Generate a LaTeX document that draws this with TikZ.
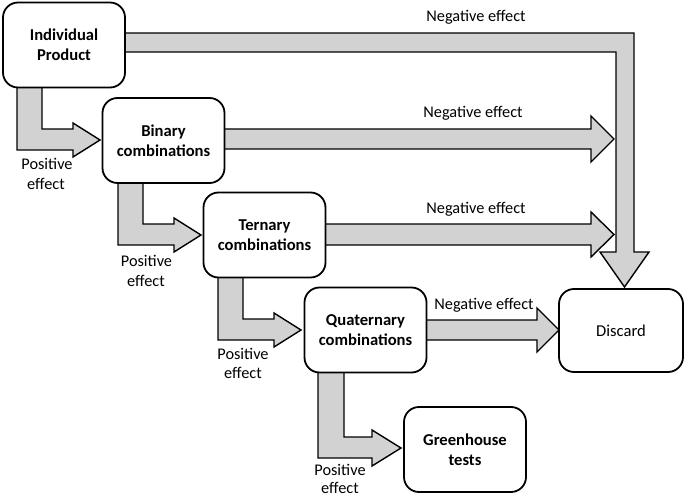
\documentclass[tikz,border=0pt]{standalone}
\usepackage{fontspec}
\setmainfont{Carlito}
\definecolor{arrowgray}{RGB}{210,210,210}
\begin{document}
\begin{tikzpicture}[x=1pt,y=-1pt,
  box/.style={draw=black,line width=1.8pt,rounded corners=15pt,fill=white,minimum width=122pt,minimum height=85pt,inner sep=0pt,align=center,font=\fontsize{16.6}{20}\selectfont\bfseries},
  blk/.style={draw=black,line width=1.4pt,fill=arrowgray,line join=miter},
  lbl/.style={font=\fontsize{16.3}{19}\selectfont,inner sep=0pt,align=center}]
\useasboundingbox (0,0) rectangle (685,497);
% block arrows
\draw[blk] (125,33) -- (634,33) -- (634,252) -- (649,252) -- (624.5,287) -- (600,252) -- (616,252) -- (616,52) -- (125,52) -- cycle;
\draw[blk] (224,129) -- (591,129) -- (591,116) -- (614,139) -- (591,162) -- (591,149) -- (224,149) -- cycle;
\draw[blk] (325,224) -- (591,224) -- (591,212) -- (614,234.5) -- (591,257) -- (591,245) -- (325,245) -- cycle;
\draw[blk] (425,320) -- (537,320) -- (537,308) -- (559,330) -- (537,352) -- (537,340) -- (425,340) -- cycle;
\draw[blk] (17,87) -- (17,150) -- (73,150) -- (73,157) -- (100,140) -- (73,123) -- (73,129) -- (42,129) -- (42,87) -- cycle;
\draw[blk] (118,182) -- (118,245) -- (174,245) -- (174,252) -- (201,235) -- (174,218) -- (174,224) -- (143,224) -- (143,182) -- cycle;
\draw[blk] (218,277) -- (218,340) -- (274,340) -- (274,347) -- (301,330) -- (274,313) -- (274,319) -- (243,319) -- (243,277) -- cycle;
\draw[blk] (318,372) -- (318,458) -- (372,458) -- (372,466) -- (401,448) -- (372,430) -- (372,437) -- (344,437) -- (344,372) -- cycle;
% boxes
\node[box] (ind) at (64,45) {Individual\\Product};
\node[box] (bin) at (163.5,140.5) {Binary\\combinations};
\node[box] (ter) at (264.5,235) {Ternary\\combinations};
\node[box] (quat) at (365.5,330) {Quaternary\\combinations};
\node[box] (green) at (465,449.5) {Greenhouse\\tests};
\node[box,minimum width=124pt,minimum height=83pt,font=\fontsize{16.6}{20}\selectfont] (disc) at (621,330.5) {Discard};
% labels
\node[lbl] (n1) at (476,17) {Negative effect};
\node[lbl] (n2) at (473,113) {Negative effect};
\node[lbl] (n3) at (476,209) {Negative effect};
\node[lbl] (n4) at (484,305) {Negative effect};
\node[lbl] (p1a) at (47,164) {Positive};
\node[lbl] (p1b) at (46,184) {effect};
\node[lbl] (p2a) at (146.5,261) {Positive};
\node[lbl] (p2b) at (146,281) {effect};
\node[lbl] (p3a) at (243,354) {Positive};
\node[lbl] (p3b) at (243,373) {effect};
\node[lbl] (p4a) at (340,470) {Positive};
\node[lbl] (p4b) at (340,487.5) {effect};
\end{tikzpicture}
\end{document}
